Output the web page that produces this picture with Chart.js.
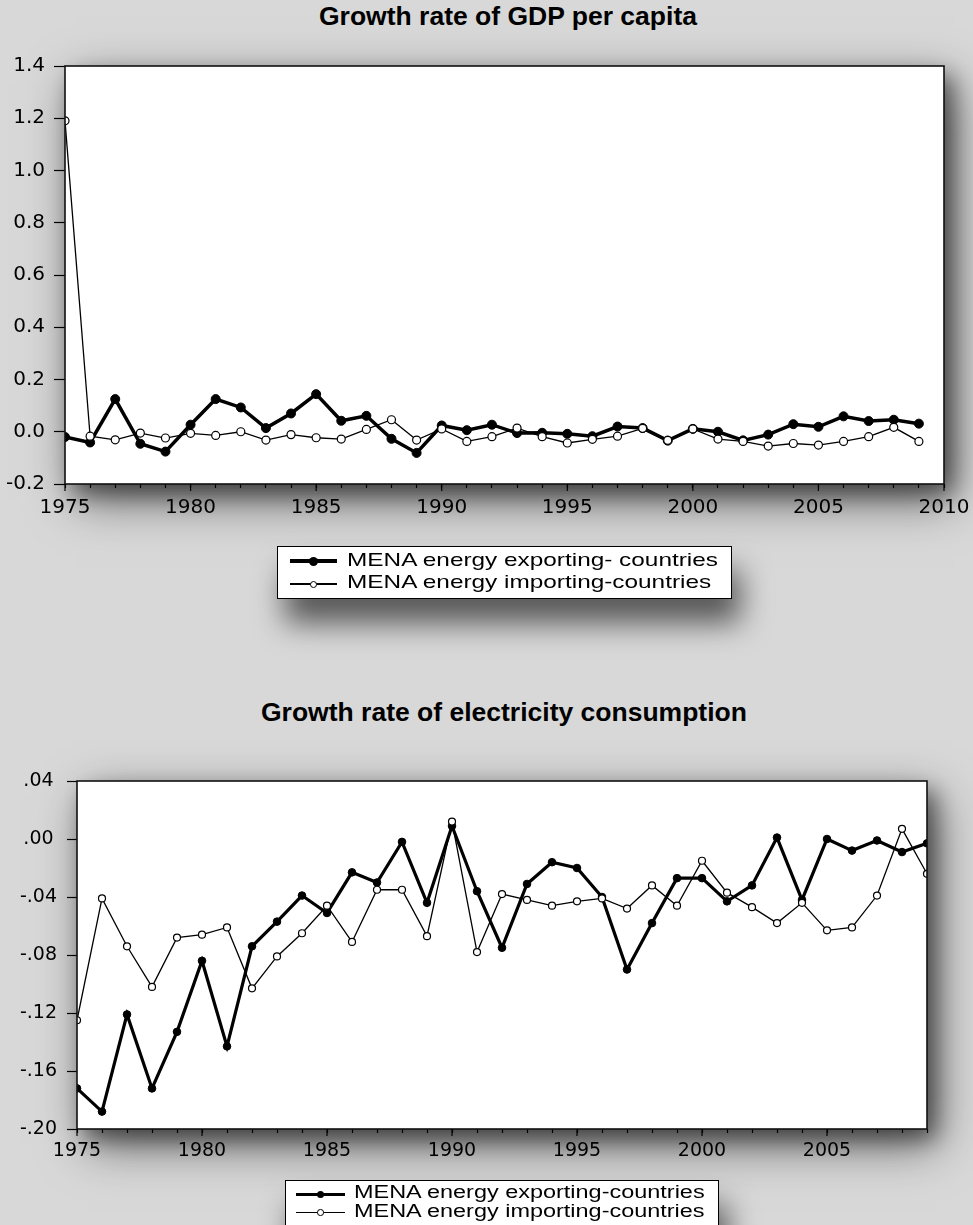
<!DOCTYPE html>
<html><head><meta charset="utf-8">
<script src="https://cdn.jsdelivr.net/npm/chart.js@4.4.1/dist/chart.umd.min.js"></script>
<style>
html,body{margin:0;padding:0;width:973px;height:1225px;overflow:hidden;background:#d8d8d8;}
body{position:relative;font-family:"Liberation Sans",Arial,sans-serif;}
.title{position:absolute;font-weight:bold;font-size:26.5px;line-height:26.5px;white-space:nowrap;color:#000;}
.cwrap{position:absolute;left:0;width:973px;}
.legend{position:absolute;background:#fff;border:1px solid #000;box-shadow:8px 24px 30px rgba(0,0,0,.6);box-sizing:border-box;}
.ltext{position:absolute;white-space:nowrap;transform-origin:0 0;color:#000;}
.lline{position:absolute;background:#000;}
.ldot{position:absolute;border-radius:50%;box-sizing:border-box;}
</style>
</head>
<body>
<div class="title" style="left:319px;top:3px;">Growth rate of GDP per capita</div>
<div class="cwrap" style="top:0;height:600px;"><canvas id="c1" width="973" height="600"></canvas></div>

<div class="legend" style="left:277px;top:546px;width:455px;height:53px;"></div>
<div class="lline" style="left:290px;top:559.25px;width:47px;height:3.5px;"></div>
<div class="ldot" style="left:308.5px;top:556.5px;width:9px;height:9px;background:#000;"></div>
<div class="ltext" style="left:347px;top:551.3px;font-size:18.6px;line-height:18.6px;transform:scaleX(1.31);">MENA energy exporting- countries</div>
<div class="lline" style="left:290px;top:583.4px;width:47px;height:1.2px;"></div>
<div class="ldot" style="left:309.5px;top:580.5px;width:7px;height:7px;background:#fff;border:1.2px solid #000;"></div>
<div class="ltext" style="left:347px;top:573.3px;font-size:18.6px;line-height:18.6px;transform:scaleX(1.31);">MENA energy importing-countries</div>

<div class="title" style="left:261px;top:698.5px;">Growth rate of electricity consumption</div>
<div class="cwrap" style="top:740px;height:485px;"><canvas id="c2" width="973" height="485"></canvas></div>

<div class="legend" style="left:285px;top:1180px;width:434px;height:70px;"></div>
<div class="lline" style="left:296px;top:1192.5px;width:49px;height:3px;"></div>
<div class="ldot" style="left:316.5px;top:1190.5px;width:7px;height:7px;background:#000;"></div>
<div class="ltext" style="left:354px;top:1184.2px;font-size:17.5px;line-height:17.5px;transform:scaleX(1.34);">MENA energy exporting-countries</div>
<div class="lline" style="left:296px;top:1211.9px;width:49px;height:1.2px;"></div>
<div class="ldot" style="left:317px;top:1209.3px;width:6.5px;height:6.5px;background:#fff;border:1.2px solid #000;"></div>
<div class="ltext" style="left:354px;top:1202.9px;font-size:17.5px;line-height:17.5px;transform:scaleX(1.34);">MENA energy importing-countries</div>

<script>
// ---- DATA ----
const years = [1975,1976,1977,1978,1979,1980,1981,1982,1983,1984,1985,1986,1987,1988,1989,1990,1991,1992,1993,1994,1995,1996,1997,1998,1999,2000,2001,2002,2003,2004,2005,2006,2007,2008,2009];

const gdpExporting = [-0.020,-0.041,0.125,-0.046,-0.076,0.027,0.125,0.093,0.014,0.070,0.144,
  0.042,0.061,-0.027,-0.081,0.024,0.006,0.027,-0.005,-0.004,-0.008,-0.017,0.020,0.014,
  -0.034,0.011,0.000,-0.033,-0.011,0.029,0.019,0.059,0.041,0.046,0.031];
const gdpImporting = [1.190,-0.017,-0.031,-0.005,-0.024,-0.006,-0.014,0.000,-0.032,-0.011,-0.023,
  -0.028,0.009,0.046,-0.032,0.011,-0.037,-0.019,0.014,-0.019,-0.043,-0.029,-0.017,0.013,
  -0.033,0.011,-0.028,-0.037,-0.055,-0.045,-0.051,-0.037,-0.019,0.017,-0.037];

const elecExporting = [-0.172,-0.188,-0.121,-0.172,-0.133,-0.084,-0.143,-0.074,-0.057,-0.039,-0.051,
  -0.023,-0.030,-0.002,-0.044,0.009,-0.036,-0.075,-0.031,-0.016,-0.020,-0.040,-0.090,
  -0.058,-0.027,-0.027,-0.043,-0.032,0.001,-0.042,0.000,-0.008,-0.001,-0.009,-0.003];
const elecImporting = [-0.125,-0.041,-0.074,-0.102,-0.068,-0.066,-0.061,-0.103,-0.081,-0.065,-0.046,
  -0.071,-0.035,-0.035,-0.067,0.012,-0.078,-0.038,-0.042,-0.046,-0.043,-0.041,-0.048,
  -0.032,-0.046,-0.015,-0.037,-0.047,-0.058,-0.044,-0.063,-0.061,-0.039,0.007,-0.024];

const gdpYTicks = {min:-0.2, max:1.4, step:0.2};
const elecYTicks = {min:-0.20, max:0.04, step:0.04};
const seriesLabels = ['MENA energy exporting- countries','MENA energy importing-countries'];

// ---- helpers ----
const pts = (arr) => arr.map((v,i)=>({x:years[i], y:v}));

const framePlugin = {
  id:'frame',
  beforeDraw(chart){
    const {ctx, chartArea:a} = chart;
    ctx.save();
    ctx.fillStyle = '#fff';
    ctx.shadowColor = 'rgba(0,0,0,0.55)';
    ctx.shadowBlur = 45;
    ctx.shadowOffsetX = 10;
    ctx.shadowOffsetY = 16;
    ctx.fillRect(a.left, a.top, a.right-a.left, a.bottom-a.top);
    ctx.shadowColor = 'rgba(0,0,0,0.45)';
    ctx.shadowBlur = 20;
    ctx.shadowOffsetX = 8;
    ctx.shadowOffsetY = 10;
    ctx.fillRect(a.left, a.top, a.right-a.left, a.bottom-a.top);
    ctx.restore();
  },
  afterDraw(chart){
    const {ctx, chartArea:a} = chart;
    ctx.save();
    ctx.strokeStyle = '#111';
    ctx.lineWidth = 1.6;
    ctx.strokeRect(a.left, a.top, a.right-a.left, a.bottom-a.top);
    const xs = chart.scales.x;
    ctx.strokeStyle = '#000';
    ctx.lineWidth = 1.2;
    xs.ticks.forEach(t => {
      if (Math.round(t.value) % 5 === 0) {
        const px = xs.getPixelForValue(t.value);
        ctx.beginPath(); ctx.moveTo(px, a.bottom); ctx.lineTo(px, a.bottom+7); ctx.stroke();
      }
    });
    ctx.restore();
  }
};

function makeChart(id, exp, imp, cfg){
  return new Chart(document.getElementById(id), {
    type:'line',
    data:{ datasets:[
      { label:seriesLabels[0], data:pts(exp), borderColor:'#000', borderWidth:cfg.thick,
        pointRadius:cfg.r1, pointBackgroundColor:'#000', pointBorderColor:'#000', pointBorderWidth:1,
        tension:0, clip:0, order:2 },
      { label:seriesLabels[1], data:pts(imp), borderColor:'#000', borderWidth:1.3,
        pointRadius:cfg.r2, pointBackgroundColor:'#fff', pointBorderColor:'#000', pointBorderWidth:1.2,
        tension:0, clip:0, order:1 }
    ]},
    options:{
      responsive:false, animation:false, devicePixelRatio:1,
      layout:{ padding:{ left:0, top:cfg.top, right:cfg.right, bottom:0 } },
      plugins:{ legend:{display:false}, tooltip:{enabled:false}, title:{display:false} },
      scales:{
        x:{ type:'linear', min:1975, max:cfg.xmax,
            border:{display:false},
            grid:{ drawOnChartArea:false, drawTicks:true, tickLength:4, tickColor:'#000', tickWidth:1.2 },
            ticks:{ stepSize:1, autoSkip:false, maxRotation:0, minRotation:0, padding:cfg.xpad,
                    color:'#000', font:{family:'DejaVu Sans', size:cfg.fs},
                    callback:(v)=> (Math.round(v)%5===0 ? String(Math.round(v)) : '') },
            afterFit:(s)=>{ s.height = cfg.xh; s.paddingRight = 0; s.paddingLeft = 0; } },
        y:{ type:'linear', min:cfg.y.min, max:cfg.y.max,
            border:{display:false},
            grid:{ drawOnChartArea:false, drawTicks:true, tickLength:cfg.ytl, tickColor:'#000', tickWidth:1.2 },
            ticks:{ stepSize:cfg.y.step, padding:cfg.ypad, crossAlign:cfg.cross, color:'#000',
                    font:{family:'DejaVu Sans', size:cfg.fs}, callback:cfg.fmt },
            afterFit:(s)=>{ s.width = cfg.yw; s.paddingTop = 0; s.paddingBottom = 0; } }
      }
    },
    plugins:[framePlugin]
  });
}

makeChart('c1', gdpExporting, gdpImporting, {
  thick:3.5, r1:4.5, r2:4, top:66, right:29, xmax:2010, xpad:8, fs:20, xh:116,
  y:gdpYTicks, ytl:11, ypad:9, cross:'near', yw:65,
  fmt:(v)=> (Math.abs(v)<1e-9 ? 0 : v).toFixed(1)
});

makeChart('c2', elecExporting, elecImporting, {
  thick:3.2, r1:3.8, r2:3.5, top:41, right:46, xmax:2009, xpad:7, fs:19, xh:96,
  y:elecYTicks, ytl:10, ypad:10, cross:'center', yw:77,
  fmt:(v)=> (Math.abs(v)<1e-9 ? 0 : v).toFixed(2).replace(/^(-?)0\./,'$1.')
});
</script>
</body></html>
